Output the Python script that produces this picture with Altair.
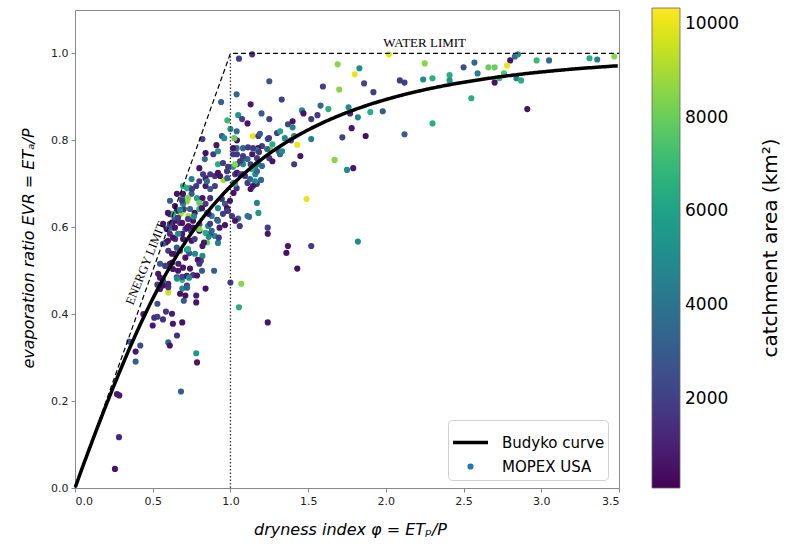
import altair as alt
import pandas as pd

# dryness index (phi), evaporation ratio (EVR) and catchment area (km2) of the MOPEX catchments
phi_vals = [
    0.257, 0.283, 0.27, 0.285, 0.682, 0.35, 0.39, 0.42, 0.39, 0.44,
    0.50, 0.51, 0.53, 0.566, 0.585, 0.624, 0.53, 0.53, 0.547, 0.60,
    0.60, 0.69, 0.69, 0.70, 0.676, 0.71, 0.63, 0.656, 0.60, 0.61,
    0.69, 0.78, 0.785, 0.78, 0.78, 0.84, 0.895, 1.0, 1.07, 1.055,
    1.12, 1.18, 1.06, 0.965, 0.92, 0.85, 0.83, 0.90, 0.87, 0.84,
    0.80, 0.82, 0.81, 0.79, 0.80, 0.72, 0.735, 0.76, 0.71, 0.676,
    0.655, 0.64, 0.665, 0.61, 0.63, 0.58, 0.547, 0.535, 0.567, 0.60,
    0.625, 0.655, 0.69, 0.72, 0.72, 0.75, 0.77, 0.80, 0.82, 0.86,
    0.88, 0.925, 0.93, 0.915, 0.88, 0.85, 0.567, 0.59, 0.61, 0.63,
    0.656, 0.61, 0.64, 0.585, 0.60, 0.645, 0.69, 0.71, 0.73, 0.745,
    0.80, 0.68, 0.73, 0.547, 0.566, 0.656, 0.721, 0.734, 0.663, 0.695,
    0.74, 0.785, 0.817, 0.727, 0.772, 0.856, 0.759, 0.727, 0.695, 0.676,
    0.625, 0.631, 0.663, 0.695, 0.624, 0.598, 0.566, 0.605, 0.82, 0.84,
    0.89, 0.92, 0.92, 0.91, 0.945, 0.96, 0.835, 0.87, 0.90, 0.92,
    0.955, 0.98, 0.84, 0.80, 0.75, 0.78, 0.84, 0.87, 0.90, 0.74,
    0.75, 0.785, 0.82, 0.80, 0.84, 0.87, 0.70, 0.72, 0.69, 0.70,
    0.74, 0.77, 0.80, 0.86, 0.92, 0.98, 1.01, 1.05, 1.03, 0.965,
    0.945, 1.02, 1.04, 1.02, 1.03, 1.08, 1.13, 1.16, 1.17, 1.14,
    1.11, 1.11, 1.17, 1.13, 1.17, 1.145, 1.18, 1.04, 1.042, 1.69,
    1.80, 1.70, 1.595, 1.25, 1.04, 0.94, 1.13, 1.33, 1.20, 1.25,
    1.05, 0.98, 1.075, 1.11, 1.0, 1.04, 1.025, 1.24, 1.19, 1.30,
    1.37, 1.40, 1.40, 1.32, 1.35, 1.41, 1.43, 1.255, 1.45, 1.41,
    1.46, 1.47, 1.52, 1.56, 1.63, 1.52, 1.67, 1.75, 1.79, 1.72,
    1.78, 1.76, 1.49, 1.11, 1.24, 1.24, 1.58, 1.248, 1.39, 1.27,
    1.203, 1.178, 1.081, 1.113, 1.171, 1.184, 1.236, 1.25, 1.27, 1.31,
    1.319, 1.332, 1.042, 1.081, 1.042, 1.017, 1.081, 1.158, 1.178, 1.203,
    1.139, 1.171, 1.042, 1.062, 1.094, 1.126, 1.158, 1.197, 1.145, 1.03,
    1.14, 1.055, 1.017, 1.017, 0.952, 1.081, 1.145, 1.171, 0.80, 0.824,
    0.849, 0.721, 0.753, 0.727, 0.695, 0.695, 0.656, 0.611, 0.759, 0.869,
    0.817, 0.92, 0.952, 0.997, 0.978, 0.933, 0.978, 0.985, 1.03, 1.062,
    0.695, 0.656, 0.689, 0.643, 0.611, 0.676, 0.631, 0.663, 0.598, 0.689,
    0.721, 0.765, 0.643, 2.02, 2.80, 2.83, 2.85, 2.78, 2.97, 3.05,
    3.31, 3.36, 3.47, 2.25, 1.83, 2.50, 2.57, 2.59, 2.66, 2.70,
    2.76, 2.73, 2.84, 2.87, 2.70, 2.91, 2.41, 2.41, 2.24, 2.30,
    2.55, 2.30, 2.09, 2.12, 2.12, 1.86, 1.92, 1.90, 1.98, 1.82,
    1.77, 1.87, 1.82, 1.37, 1.36, 1.52, 1.43, 1.24, 0.985,
]
evr_vals = [
    0.044, 0.117, 0.216, 0.213, 0.222, 0.337, 0.291, 0.328, 0.314, 0.40,
    0.374, 0.392, 0.394, 0.388, 0.406, 0.401, 0.424, 0.468, 0.458, 0.45,
    0.462, 0.479, 0.459, 0.431, 0.447, 0.443, 0.378, 0.351, 0.335, 0.328,
    0.381, 0.31, 0.289, 0.443, 0.427, 0.459, 0.50, 0.473, 0.47, 0.416,
    0.624, 0.633, 0.603, 0.605, 0.564, 0.565, 0.565, 0.58, 0.585, 0.587,
    0.607, 0.534, 0.523, 0.525, 0.516, 0.548, 0.54, 0.49, 0.53, 0.546,
    0.553, 0.539, 0.516, 0.516, 0.504, 0.511, 0.516, 0.493, 0.477, 0.47,
    0.519, 0.485, 0.486, 0.488, 0.466, 0.569, 0.573, 0.592, 0.557, 0.578,
    0.592, 0.576, 0.599, 0.617, 0.626, 0.633, 0.608, 0.596, 0.585, 0.599,
    0.615, 0.63, 0.622, 0.565, 0.546, 0.573, 0.585, 0.596, 0.603, 0.592,
    0.596, 0.631, 0.626, 0.484, 0.466, 0.482, 0.461, 0.484, 0.50, 0.507,
    0.505, 0.489, 0.50, 0.55, 0.539, 0.603, 0.615, 0.619, 0.638, 0.61,
    0.61, 0.576, 0.585, 0.573, 0.539, 0.569, 0.562, 0.599, 0.803, 0.771,
    0.768, 0.775, 0.745, 0.789, 0.81, 0.805, 0.757, 0.722, 0.718, 0.725,
    0.709, 0.713, 0.713, 0.706, 0.711, 0.695, 0.695, 0.688, 0.695, 0.69,
    0.677, 0.667, 0.667, 0.656, 0.654, 0.667, 0.656, 0.66, 0.667, 0.642,
    0.642, 0.633, 0.642, 0.631, 0.615, 0.638, 0.626, 0.62, 0.615, 0.654,
    0.665, 0.679, 0.69, 0.702, 0.722, 0.722, 0.745, 0.722, 0.745, 0.768,
    0.757, 0.702, 0.70, 0.688, 0.656, 0.81, 0.81, 0.782, 0.80, 0.975,
    0.952, 0.917, 0.924, 0.936, 0.906, 0.888, 0.883, 0.894, 0.862, 0.849,
    0.858, 0.846, 0.849, 0.839, 0.826, 0.821, 0.805, 0.803, 0.815, 0.817,
    0.837, 0.844, 0.83, 0.821, 0.805, 0.81, 0.79, 0.78, 0.764, 0.745,
    0.869, 0.862, 0.849, 0.858, 0.872, 0.803, 0.755, 0.732, 0.736, 0.807,
    0.828, 0.876, 0.665, 0.626, 0.599, 0.585, 0.88, 0.805, 0.80, 0.791,
    0.787, 0.782, 0.782, 0.784, 0.777, 0.773, 0.78, 0.759, 0.752, 0.775,
    0.768, 0.775, 0.768, 0.757, 0.745, 0.739, 0.745, 0.736, 0.748, 0.741,
    0.734, 0.729, 0.725, 0.722, 0.718, 0.711, 0.706, 0.709, 0.695, 0.70,
    0.998, 0.988, 0.782, 0.768, 0.748, 0.764, 0.782, 0.759, 0.736, 0.722,
    0.706, 0.69, 0.688, 0.667, 0.677, 0.654, 0.638, 0.608, 0.599, 0.608,
    0.644, 0.644, 0.631, 0.661, 0.644, 0.718, 0.729, 0.739, 0.745, 0.752,
    0.695, 0.677, 0.661, 0.649, 0.661, 0.64, 0.631, 0.622, 0.633, 0.61,
    0.599, 0.625, 0.599, 0.998, 0.984, 0.993, 0.998, 0.972, 0.984, 0.984,
    0.989, 0.986, 0.993, 0.977, 0.966, 0.968, 0.979, 0.954, 0.968, 0.968,
    0.954, 0.943, 0.943, 0.938, 0.933, 0.872, 0.95, 0.938, 0.94, 0.943,
    0.897, 0.839, 0.938, 0.933, 0.814, 0.931, 0.911, 0.865, 0.867, 0.853,
    0.862, 0.81, 0.567, 0.557, 0.541, 0.557, 0.505, 0.381, 0.638,
]
area_vals = [
    600, 1200, 900, 800, 3000, 3000, 3200, 2600, 700, 800,
    700, 1500, 1800, 1500, 1700, 900, 2800, 2000, 800, 9500,
    1500, 6500, 5000, 3000, 600, 500, 700, 1500, 3500, 600,
    500, 5500, 700, 800, 600, 500, 3200, 2000, 8500, 6500,
    3500, 5500, 1800, 600, 4500, 8000, 700, 5000, 1800, 6500,
    2000, 5000, 2000, 600, 1500, 5500, 3000, 1700, 600, 2000,
    2800, 1600, 900, 700, 600, 1800, 3000, 800, 3300, 1200,
    500, 1500, 2200, 800, 1800, 500, 1800, 500, 700, 5000,
    3500, 1800, 800, 1800, 4800, 3500, 600, 700, 1500, 3000,
    500, 1800, 3200, 500, 1800, 1600, 800, 2000, 600, 2200,
    8500, 9000, 9000, 700, 500, 5000, 3200, 5000, 600, 700,
    600, 700, 3000, 6500, 5000, 5000, 600, 1800, 8500, 1800,
    600, 600, 5000, 600, 600, 600, 3000, 3000, 2000, 500,
    1800, 5500, 6500, 700, 3000, 5000, 3500, 1800, 1500, 600,
    9000, 3000, 600, 1800, 4500, 1800, 700, 3000, 2000, 5000,
    3000, 6000, 600, 8000, 1800, 1500, 9000, 8500, 5000, 1800,
    3200, 600, 6500, 600, 3500, 800, 1800, 3200, 600, 3000,
    1800, 600, 1500, 5000, 2000, 600, 2000, 5000, 3500, 600,
    3500, 1800, 1500, 600, 4500, 10000, 1800, 3500, 600, 8500,
    10000, 8500, 2000, 2800, 3500, 3200, 700, 2000, 3000, 2000,
    5500, 7000, 2000, 600, 5000, 3500, 8000, 3500, 3000, 2000,
    2200, 600, 4500, 6000, 5000, 5000, 10000, 8500, 700, 1800,
    5000, 500, 1800, 1800, 6500, 4500, 8500, 5000, 600, 2000,
    700, 5000, 10000, 4000, 2000, 600, 3500, 1800, 1800, 6500,
    1800, 600, 3500, 1800, 5000, 1800, 3500, 1800, 600, 3500,
    3500, 5000, 1800, 3500, 1800, 6000, 5000, 5000, 5000, 3500,
    6500, 3500, 600, 1800, 1800, 3500, 5000, 3500, 600, 6500,
    1500, 2000, 600, 1800, 1800, 1800, 1800, 1800, 600, 1800,
    3500, 6500, 1800, 8500, 600, 5000, 600, 1800, 600, 1800,
    600, 5000, 1800, 600, 600, 600, 1800, 1800, 8500, 1800,
    6500, 600, 1800, 600, 3000, 5000, 6500, 1800, 600, 600,
    600, 5000, 600, 10000, 600, 3500, 5000, 10000, 7000, 3500,
    6500, 4500, 8500, 8500, 5000, 2500, 3500, 4500, 8000, 8000,
    7500, 7000, 4500, 6500, 500, 600, 6500, 5500, 5000, 6500,
    6500, 6500, 1800, 2000, 3000, 2200, 2000, 6500, 3000, 4500,
    1200, 500, 5000, 700, 500, 1800, 500, 600, 1800,
]

# limits of the Budyko space
limit_phi = [0.0, 1.0, 3.5]
limit_evr = [0.0, 1.0, 1.0]
divider_phi = [1.0, 1.0]
divider_evr = [0.0, 1.0]

# legend / annotation texts
series_names = ["Budyko curve", "MOPEX USA"]
colorbar_ticks = [2000, 4000, 6000, 8000, 10000]
x_ticks = [0.0, 0.5, 1.0, 1.5, 2.0, 2.5, 3.0, 3.5]
y_ticks = [0.0, 0.2, 0.4, 0.6, 0.8, 1.0]

df = pd.DataFrame({"phi": phi_vals, "evr": evr_vals, "area": area_vals})

W, H = 544, 478
xs = alt.Scale(domain=[0, 3.5], nice=False, zero=False)
ys = alt.Scale(domain=[0, 1.1], nice=False, zero=False)

x_axis = alt.Axis(
    values=x_ticks, format=".1f", grid=False, domain=False,
    labelFont="DejaVu Sans", labelFontSize=11, labelColor="#222", labelPadding=3,
    tickColor="#888", tickSize=4,
    title="dryness index  \u03c6 = ET\u209a/P", titleFont="DejaVu Sans", titleFontSize=16,
    titleFontStyle="italic", titleFontWeight="normal", titleColor="black",
    titleX=275, titleY=46, titleBaseline="alphabetic", titleAlign="center",
)
y_axis = alt.Axis(
    values=y_ticks, format=".1f", grid=False, domain=False,
    labelFont="DejaVu Sans", labelFontSize=11, labelColor="#222", labelPadding=3,
    tickColor="#888", tickSize=4,
    title="evaporation ratio  EVR = ET\u2090/P", titleFont="DejaVu Sans", titleFontSize=16,
    titleFontStyle="italic", titleFontWeight="normal", titleColor="black",
    titleX=-42, titleY=238, titleAngle=270, titleBaseline="alphabetic", titleAlign="center",
)

points = alt.Chart(df).mark_circle(size=38, opacity=1).encode(
    x=alt.X("phi:Q", scale=xs, axis=x_axis),
    y=alt.Y("evr:Q", scale=ys, axis=y_axis),
    color=alt.Color(
        "area:Q",
        scale=alt.Scale(scheme="viridis", domain=[100, 10340], nice=False, zero=False),
        legend=alt.Legend(
            orient="none", legendX=577, legendY=-2, direction="vertical",
            gradientLength=480, gradientThickness=28,
            gradientStrokeColor="#666", gradientStrokeWidth=0.8,
            values=colorbar_ticks, format="d", title=None,
            labelFont="DejaVu Sans", labelFontSize=17, labelColor="black",
            labelOffset=5, padding=0,
        ),
    ),
)

limits = alt.Chart(pd.DataFrame({"phi": limit_phi, "evr": limit_evr})).mark_line(
    color="black", strokeWidth=1.2, strokeDash=[5, 3]
).encode(x=alt.X("phi:Q", scale=xs), y=alt.Y("evr:Q", scale=ys))

divider = alt.Chart(pd.DataFrame({"phi": divider_phi, "evr": divider_evr})).mark_line(
    color="#333", strokeWidth=1.3, strokeDash=[1.5, 2]
).encode(x=alt.X("phi:Q", scale=xs), y=alt.Y("evr:Q", scale=ys))

budyko = (
    alt.Chart(alt.sequence(0.002, 3.502, 0.01, as_="phi"))
    .transform_calculate(
        evr="sqrt(datum.phi * (1 - 2 / (exp(2 / datum.phi) + 1)) * (1 - exp(-datum.phi)))"
    )
    .mark_line(color="black", strokeWidth=3.5)
    .encode(x=alt.X("phi:Q", scale=xs), y=alt.Y("evr:Q", scale=ys))
)

water_txt = alt.Chart(pd.DataFrame({"phi": [2.25], "evr": [1.025], "t": ["WATER LIMIT"]})).mark_text(
    font="Liberation Serif", fontSize=13, color="black", baseline="middle", align="center"
).encode(x=alt.X("phi:Q", scale=xs), y=alt.Y("evr:Q", scale=ys), text="t:N")

energy_txt = alt.Chart(pd.DataFrame({"phi": [0.455], "evr": [0.517], "t": ["ENERGY LIMIT"]})).mark_text(
    font="Liberation Serif", fontSize=12.5, color="black", baseline="middle", align="center", angle=292
).encode(x=alt.X("phi:Q", scale=xs), y=alt.Y("evr:Q", scale=ys), text="t:N")

leg_df = pd.DataFrame({"series": series_names, "phi": [None, None], "evr": [None, None]})
leg_props = dict(
    orient="none", legendX=373, legendY=410, title=None,
    labelFont="DejaVu Sans", labelFontSize=15, labelColor="black", labelOffset=12,
    symbolStrokeWidth=3.5, padding=3, fillColor="white", strokeColor="#d0d0d0",
    cornerRadius=4, rowPadding=5,
)
series_legend = alt.Chart(leg_df).mark_point(filled=True, opacity=1).encode(
    x=alt.X("phi:Q", scale=xs),
    y=alt.Y("evr:Q", scale=ys),
    shape=alt.Shape("series:N", scale=alt.Scale(domain=series_names, range=["stroke", "circle"]),
                    legend=alt.Legend(**leg_props)),
    size=alt.Size("series:N", scale=alt.Scale(domain=series_names, range=[1225, 38]),
                  legend=alt.Legend(**leg_props)),
    fill=alt.Fill("series:N", scale=alt.Scale(domain=series_names, range=["black", "#1f77b4"]),
                  legend=alt.Legend(**leg_props)),
    stroke=alt.Stroke("series:N", scale=alt.Scale(domain=series_names, range=["black", "transparent"]),
                      legend=alt.Legend(**leg_props)),
)

cbar_title = alt.Chart(pd.DataFrame({"t": ["catchment area (km\u00b2)"]})).mark_text(
    font="DejaVu Sans", fontSize=20, color="black", angle=270, align="center", baseline="middle"
).encode(x=alt.value(696), y=alt.value(238), text="t:N")

chart = (
    alt.layer(points, limits, divider, budyko, water_txt, energy_txt, series_legend, cbar_title)
    .resolve_scale(color="independent", fill="independent", stroke="independent",
                   shape="independent", size="independent")
    .properties(
        width=W, height=H,
        padding={"left": 75, "top": 10, "right": 167, "bottom": 58},
        autosize=alt.AutoSizeParams(type="none"),
    )
    .configure(font="DejaVu Sans")
    .configure_view(stroke="#888", strokeWidth=1)
)

chart.save("out.html", embed_options={"renderer": "svg", "actions": False})
